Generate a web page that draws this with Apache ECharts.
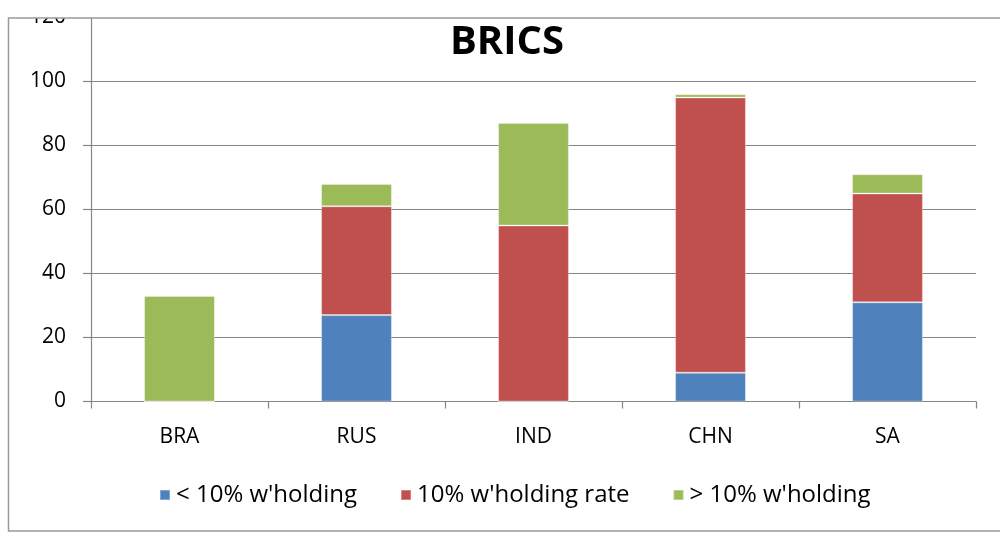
<!DOCTYPE html>
<html>
<head>
<meta charset="utf-8">
<script src="https://cdn.jsdelivr.net/npm/echarts@6/dist/echarts.min.js"></script>
<style>html,body{margin:0;padding:0;background:#fff;}#c{width:1000px;height:537px;}</style>
</head>
<body>
<div id="c"></div>
<script>
const categories = ['BRA', 'RUS', 'IND', 'CHN', 'SA'];
const below10 = [0, 27, 0, 9, 31];
const at10 = [0, 34, 55, 86, 34];
const above10 = [33, 7, 32, 1, 6];
const seriesNames = ["< 10% w'holding", "10% w'holding rate", "> 10% w'holding"];
const yTicks = [0, 20, 40, 60, 80, 100, 120];

const FONT = 'Open Sans';
const chart = echarts.init(document.getElementById('c'), null, {renderer: 'canvas'});
const barStyle = (c) => ({color: c, borderColor: 'rgba(255,255,255,0.3)', borderWidth: 1});
chart.setOption({
  animation: false,
  backgroundColor: '#fff',
  title: {
    text: 'BRICS', left: 502, top: 15, textAlign: 'center',
    textStyle: {fontFamily: FONT, fontWeight: 'bold', fontSize: 40, color: '#000', lineHeight: 46}
  },
  grid: {left: 91, right: 24, top: 17.5, bottom: 135.5},
  legend: {
    data: seriesNames, left: 154, top: 478,
    itemWidth: 10, itemHeight: 10, itemGap: 43,
    icon: 'rect',
    textStyle: {fontFamily: FONT, fontSize: 24, color: '#000', padding: [0, 0, 0, 1]}
  },
  xAxis: {
    type: 'category', data: categories,
    axisLine: {lineStyle: {color: '#868686', width: 1.2}},
    axisTick: {show: true, length: 7, lineStyle: {color: '#868686', width: 1.2}},
    axisLabel: {fontFamily: FONT, fontSize: 21, color: '#000', margin: 25}
  },
  yAxis: {
    type: 'value', min: yTicks[0], max: yTicks[yTicks.length - 1], interval: 20,
    axisLine: {show: true, lineStyle: {color: '#868686', width: 1.2}},
    axisTick: {show: true, length: 8, lineStyle: {color: '#868686', width: 1.2}},
    splitLine: {lineStyle: {color: '#868686', width: 1.2}},
    axisLabel: {fontFamily: FONT, fontSize: 21, color: '#000', margin: 25}
  },
  series: [
    {name: seriesNames[0], type: 'bar', stack: 's', data: below10, barWidth: '40%', itemStyle: barStyle('#4F81BD')},
    {name: seriesNames[1], type: 'bar', stack: 's', data: at10, barWidth: '40%', itemStyle: barStyle('#C0504D')},
    {name: seriesNames[2], type: 'bar', stack: 's', data: above10, barWidth: '40%', itemStyle: barStyle('#9BBB59')}
  ],
  graphic: [
    {type: 'rect', z: 100, shape: {x: 0, y: 0, width: 1000, height: 18}, style: {fill: '#fff'}, silent: true},
    {type: 'rect', z: 100, shape: {x: 8.5, y: 18, width: 1100, height: 513}, style: {fill: 'none', stroke: '#9a9a9a', lineWidth: 1.5}, silent: true}
  ]
});
</script>
</body>
</html>
